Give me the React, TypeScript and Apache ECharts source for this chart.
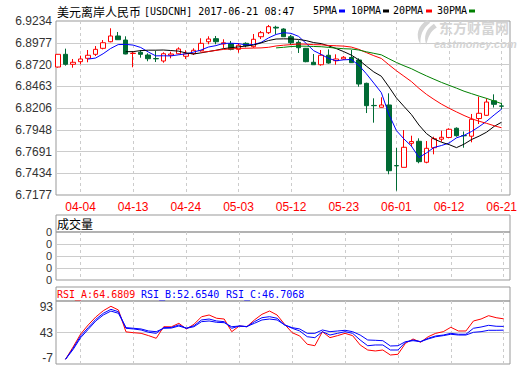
import { useEffect, useRef } from 'react';
import * as echarts from 'echarts';

const dates = [
  '03-30', '03-31', '04-03', '04-04', '04-05', '04-06', '04-07', '04-10', '04-11', '04-12',
  '04-13', '04-14', '04-17', '04-18', '04-19', '04-20', '04-21', '04-24', '04-25', '04-26',
  '04-27', '04-28', '05-01', '05-02', '05-03', '05-04', '05-05', '05-08', '05-09', '05-10',
  '05-11', '05-12', '05-15', '05-16', '05-17', '05-18', '05-19', '05-22', '05-23', '05-24',
  '05-25', '05-26', '05-29', '05-30', '05-31', '06-01', '06-02', '06-05', '06-06', '06-07',
  '06-08', '06-09', '06-12', '06-13', '06-14', '06-15', '06-16', '06-19', '06-20', '06-21',
];

const opens = [
  6.8690, 6.8840, 6.8722, 6.8753, 6.8793, 6.8840, 6.8911, 6.8989, 6.9057, 6.9009,
  6.8850, 6.8864, 6.8832, 6.8790, 6.8761, 6.8829, 6.8847, 6.8817, 6.8847, 6.8883,
  6.8989, 6.9025, 6.8962, 6.8966, 6.8899, 6.8970, 6.8930, 6.9048, 6.9096, 6.9160,
  6.9139, 6.9048, 6.8982, 6.8911, 6.8746, 6.8717, 6.8829, 6.8765, 6.8785, 6.8803,
  6.8773, 6.8497, 6.8236, 6.8214, 6.8241, 6.7525, 6.7504, 6.7788, 6.7812, 6.7564,
  6.7736, 6.7837, 6.7857, 6.7966, 6.7880, 6.7872, 6.8081, 6.8119, 6.8291, 6.8230,
];
const closes = [
  6.8840, 6.8722, 6.8746, 6.8785, 6.8829, 6.8899, 6.8977, 6.9057, 6.9013, 6.8844,
  6.8853, 6.8840, 6.8788, 6.8787, 6.8847, 6.8844, 6.8903, 6.8847, 6.8888, 6.8970,
  6.9021, 6.8989, 6.8977, 6.8899, 6.8947, 6.8942, 6.9018, 6.9096, 6.9167, 6.9151,
  6.9048, 6.8977, 6.8918, 6.8753, 6.8717, 6.8829, 6.8737, 6.8785, 6.8805, 6.8741,
  6.8489, 6.8233, 6.8233, 6.8241, 6.7464, 6.7522, 6.7741, 6.7809, 6.7571, 6.7729,
  6.7843, 6.7859, 6.7954, 6.7878, 6.7877, 6.8072, 6.8143, 6.8276, 6.8249, 6.8227,
];
const highs = [
  6.8842, 6.8907, 6.8785, 6.8824, 6.8891, 6.8938, 6.9009, 6.9148, 6.9104, 6.9053,
  6.8871, 6.8891, 6.8852, 6.8883, 6.8864, 6.8871, 6.8923, 6.8888, 6.8911, 6.9030,
  6.9053, 6.9057, 6.9018, 6.8998, 6.8974, 6.8982, 6.9080, 6.9116, 6.9187, 6.9178,
  6.9148, 6.9069, 6.9006, 6.8915, 6.8844, 6.8891, 6.8899, 6.8840, 6.8820, 6.8891,
  6.8793, 6.8505, 6.8320, 6.8332, 6.8379, 6.7733, 6.7945, 6.7878, 6.7847, 6.7815,
  6.7866, 6.7937, 6.7966, 6.7977, 6.7928, 6.8135, 6.8339, 6.8320, 6.8367, 6.8268,
];
const lows = [
  6.8682, 6.8706, 6.8682, 6.8722, 6.8746, 6.8820, 6.8899, 6.8982, 6.9010, 6.8840,
  6.8687, 6.8800, 6.8758, 6.8749, 6.8741, 6.8793, 6.8840, 6.8785, 6.8832, 6.8871,
  6.8959, 6.8959, 6.8911, 6.8888, 6.8859, 6.8923, 6.8918, 6.9021, 6.9080, 6.9080,
  6.9045, 6.8950, 6.8856, 6.8746, 6.8717, 6.8706, 6.8729, 6.8717, 6.8773, 6.8738,
  6.8457, 6.8146, 6.8032, 6.8212, 6.7422, 6.7228, 6.7504, 6.7748, 6.7552, 6.7552,
  6.7658, 6.7807, 6.7847, 6.7866, 6.7736, 6.7800, 6.8016, 6.8114, 6.8211, 6.8190,
];

const rsiA = [
  null, 0.5, 20, 40.6, 55, 67.6, 77.6, 84.6, 78.7, 44,
  42.7, 41.7, 38, 33.8, 52.2, 52, 57.6, 48.6, 56, 68,
  70.8, 65.6, 64.4, 44.3, 53.3, 52.2, 62.9, 71.9, 77.1, 70.8,
  56, 42.7, 37.5, 24.3, 22, 44.3, 34.8, 38, 41.7, 38,
  23.2, 15.2, 13.7, 15.2, 7.3, 8.4, 25.9, 32.7, 27.5, 36.3,
  41.7, 44.3, 51.3, 45.4, 45.4, 61.3, 64.4, 69.7, 66.5, 64.6809,
];
const rsiB = [
  null, 0.5, 18, 37.5, 50.7, 63.9, 73.5, 79.8, 76, 49.7,
  48.6, 47, 43.3, 41.7, 50.7, 51, 55, 49.7, 53.8, 62.9,
  64.4, 61.3, 60.2, 49.7, 53.3, 52.2, 60.2, 66.5, 68.1, 65.6,
  55, 49.7, 45.4, 36.3, 34.8, 44.3, 39, 41.7, 44.3, 41.7,
  31.1, 22, 23.2, 23.2, 15.2, 15.2, 27.5, 31.1, 28.5, 33.8,
  37.5, 39, 41.7, 40.2, 40.2, 49.7, 51.7, 54.4, 52.9, 52.654,
];
const rsiC = [
  null, 0.5, 16, 34.8, 48, 61.3, 70.8, 77, 73.5, 50.7,
  49.7, 48.6, 45.4, 44.3, 49.7, 50, 53.3, 49.7, 52.2, 60.2,
  61.3, 59.2, 58.6, 52.2, 53.3, 52.5, 57.6, 62.9, 64.4, 62.9,
  55, 50.7, 48.6, 41.7, 41.7, 47, 44.3, 45.4, 46.5, 44.3,
  39, 31.1, 30.6, 30, 21.6, 22, 28.5, 30, 28.5, 32.7,
  36.3, 38, 40.2, 39, 39, 43.3, 44.3, 46.5, 46.5, 46.7068,
];

const priceTicks = ['6.7177', '6.7434', '6.7691', '6.7948', '6.8206', '6.8463', '6.8720', '6.8977', '6.9234'];
const volumeTicks = ['0', '0', '0', '0', '0'];
const rsiLabels = ['RSI_A:64.6809', 'RSI_B:52.6540', 'RSI_C:46.7068'];
const maPeriods = [5, 10, 20, 30];
const maNames = ['5PMA', '10PMA', '20PMA', '30PMA'];

const RED = '#ff0000';
const GREEN = '#006a34';
const MA_COLORS = ['#0000ff', '#000000', '#ff0000', '#008000'];
const SANS = '"Liberation Sans", Arial, sans-serif';
const MONO = '"DejaVu Sans Mono", monospace';
const CJK = '"Noto Sans CJK SC", sans-serif';
const WM = '#d4d4d4';

echarts.graphic.registerShape(
  'emLogo',
  echarts.graphic.extendPath(
    'M14 0 C4 6 1 16 7 26 C6 17 9 9 17 3 Z M21 4 C12 10 10 18 13 26 C15 18 17 12 24 8 Z',
    {}
  ) as any
);

function movingAverage(values: number[], n: number) {
  return values.map((_, i) => {
    if (i < n - 1) return null;
    let s = 0;
    for (let k = i - n + 1; k <= i; k++) s += values[k];
    return +(s / n).toFixed(4);
  });
}

const tickInterval = (index: number) => (index - 3) % 7 === 0;

export default function App() {
  const ref = useRef<HTMLDivElement>(null);
  useEffect(() => {
    if (!ref.current) return;
    const chart = echarts.init(ref.current, null, { renderer: 'svg' });
    const candles = dates.map((_, i) => [opens[i], closes[i], lows[i], highs[i]]);

    const CAT_L = 58;
    const CAT_W = 445.7;
    const FR_L = 56;
    const FR_W = 454;

    const catAxis = (gridIndex: number, labels: boolean) => ({
      type: 'category',
      gridIndex,
      data: dates,
      boundaryGap: false,
      axisLine: { show: false },
      axisTick: { show: false },
      axisLabel: labels
        ? { interval: tickInterval, color: RED, fontSize: 12, fontFamily: SANS, margin: 6 }
        : { show: false },
      splitLine: { show: true, interval: tickInterval, lineStyle: { color: '#cccccc', type: [3, 3], width: 1 } },
    });
    const hiddenValueX = (gridIndex: number) => ({ type: 'value', gridIndex, min: 0, max: 1, show: false });
    const frameY = (gridIndex: number, max: number, labels: string[] | null, fontSize = 12) => ({
      type: 'value',
      gridIndex,
      min: 0,
      max,
      interval: 1,
      axisLine: { show: false },
      axisTick: { show: false },
      axisLabel: labels
        ? { formatter: (v: number) => labels[v], color: '#333333', fontSize, lineHeight: fontSize, fontFamily: SANS, margin: 4 }
        : { show: false },
      splitLine: { show: true, showMinLine: false, showMaxLine: false, lineStyle: { color: '#cccccc', width: 1 } },
    });

    const maSeries = maPeriods.map((p, k) => ({
      type: 'line',
      name: maNames[k],
      xAxisIndex: 0,
      yAxisIndex: 0,
      data: movingAverage(closes, p),
      showSymbol: false,
      symbol: 'none',
      lineStyle: { color: MA_COLORS[k], width: 1 },
      itemStyle: { color: MA_COLORS[k] },
      z: 3,
    }));

    const rsiSeries = [rsiA, rsiB, rsiC].map((d, k) => ({
      type: 'line',
      name: ['RSI_A', 'RSI_B', 'RSI_C'][k],
      xAxisIndex: 4,
      yAxisIndex: 4,
      data: d,
      showSymbol: false,
      symbol: 'none',
      lineStyle: { color: k === 0 ? RED : '#0000ff', width: 1 },
      z: 3,
    }));

    const legendX = [313, 351, 393, 437];
    const swatchX = [339, 383, 426, 469];

    const graphics: any[] = [
      { type: 'text', x: 57, y: 11, style: { text: '美元离岸人民币', fill: '#000', font: `12px ${CJK}`, textVerticalAlign: 'middle' } },
      { type: 'text', x: 144, y: 11.5, style: { text: '[USDCNH] 2017-06-21 08:47', fill: '#000', font: `10px ${MONO}`, textVerticalAlign: 'middle' } },
      ...maNames.map((n, k) => ({ type: 'text', x: legendX[k], y: 10.5, style: { text: n, fill: '#000', font: `10px ${MONO}`, textVerticalAlign: 'middle' } })),
      ...MA_COLORS.map((c, k) => ({ type: 'rect', shape: { x: swatchX[k], y: 9.5, width: 6, height: 3 }, style: { fill: c } })),
      { type: 'emLogo', x: 414, y: 20, scaleX: 0.95, scaleY: 0.95, z: 1, style: { fill: WM } },
      { type: 'text', x: 439, y: 27, z: 1, style: { text: '东方财富网', fill: WM, font: `bold 14px ${CJK}`, lineHeight: 14, textVerticalAlign: 'middle' } },
      { type: 'text', x: 434, y: 43.5, z: 1, style: { text: 'eastmoney.com', fill: WM, font: `italic bold 11px ${SANS}`, lineHeight: 11, textVerticalAlign: 'middle' } },
      { type: 'rect', shape: { x: 56, y: 215, width: 454, height: 17 }, style: { fill: 'none', stroke: '#999999', lineWidth: 1 } },
      { type: 'text', x: 57, y: 223.5, style: { text: '成交量', fill: '#000', font: `12px ${CJK}`, textVerticalAlign: 'middle' } },
      { type: 'rect', shape: { x: 56, y: 287, width: 454, height: 14 }, style: { fill: 'none', stroke: '#999999', lineWidth: 1 } },
      { type: 'text', x: 57, y: 294, style: { text: rsiLabels[0], fill: RED, font: `10px ${MONO}`, textVerticalAlign: 'middle' } },
      { type: 'text', x: 141, y: 294, style: { text: rsiLabels[1], fill: '#0000ff', font: `10px ${MONO}`, textVerticalAlign: 'middle' } },
      { type: 'text', x: 226, y: 294, style: { text: rsiLabels[2], fill: '#0000ff', font: `10px ${MONO}`, textVerticalAlign: 'middle' } },
    ];

    chart.setOption({
      animation: false,
      backgroundColor: '#ffffff',
      grid: [
        { left: CAT_L, top: 21, width: CAT_W, height: 174 },
        { left: FR_L, top: 21, width: FR_W, height: 174, show: true, borderColor: '#999999', borderWidth: 1, backgroundColor: 'transparent' },
        { left: CAT_L, top: 232, width: CAT_W, height: 48 },
        { left: FR_L, top: 232, width: FR_W, height: 48, show: true, borderColor: '#999999', borderWidth: 1, backgroundColor: 'transparent' },
        { left: CAT_L, top: 301, width: CAT_W, height: 63 },
        { left: FR_L, top: 301, width: FR_W, height: 63, show: true, borderColor: '#999999', borderWidth: 1, backgroundColor: 'transparent' },
      ],
      xAxis: [
        catAxis(0, true),
        hiddenValueX(1),
        catAxis(2, false),
        hiddenValueX(3),
        catAxis(4, false),
        hiddenValueX(5),
      ],
      yAxis: [
        { type: 'value', gridIndex: 0, min: 6.7177, max: 6.9234, show: false, splitLine: { show: false } },
        frameY(1, 8, priceTicks),
        { type: 'value', gridIndex: 2, min: 0, max: 1, show: false, splitLine: { show: false } },
        frameY(3, 4, volumeTicks, 11),
        {
          type: 'value', gridIndex: 4, min: -7, max: 93, interval: 50,
          axisLine: { show: false }, axisTick: { show: false },
          axisLabel: { color: '#333333', fontSize: 12, fontFamily: SANS, margin: 5, verticalAlignMaxLabel: 'top', verticalAlignMinLabel: 'bottom' },
          splitLine: { show: false },
        },
        frameY(5, 2, null),
      ],
      series: [
        {
          type: 'candlestick',
          name: 'USDCNH',
          xAxisIndex: 0,
          yAxisIndex: 0,
          data: candles,
          barWidth: 5,
          itemStyle: { color: '#ffffff', color0: GREEN, borderColor: RED, borderColor0: GREEN, borderWidth: 1 },
          z: 2,
        },
        ...maSeries,
        ...rsiSeries,
      ],
      graphic: graphics,
    });
    return () => chart.dispose();
  }, []);
  return <div ref={ref} style={{ position: 'fixed', left: 0, top: 0, width: 520, height: 365, background: '#fff' }} />;
}
